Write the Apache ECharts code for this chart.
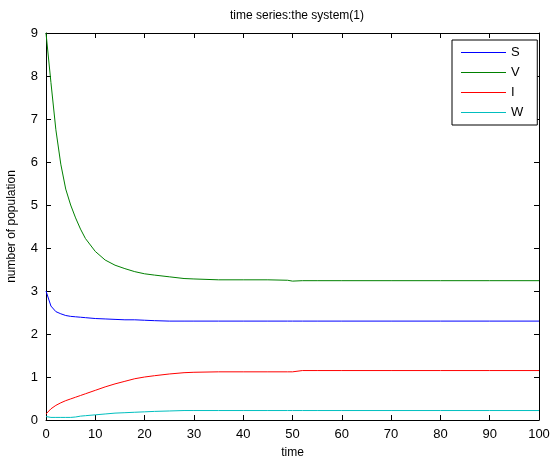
<!DOCTYPE html>
<html>
<head>
<meta charset="utf-8">
<script src="https://cdn.jsdelivr.net/npm/echarts@6/dist/echarts.min.js"></script>
<style>html,body{margin:0;padding:0;background:#fff;}#c{width:551px;height:462px;}</style>
</head>
<body>
<div id="c"></div>
<script>
const times = [0,1,2,3,4,5,6,7,8,10,12,14,16,18,20,22,25,28,30,35,40,45,49,50,52,55,60,70,80,90,100];
const S = [3.00,2.65,2.52,2.47,2.43,2.41,2.40,2.39,2.38,2.36,2.35,2.34,2.33,2.33,2.32,2.31,2.30,2.30,2.30,2.30,2.30,2.30,2.30,2.30,2.30,2.30,2.30,2.30,2.30,2.30,2.30];
const V = [9.00,7.85,6.75,5.95,5.37,5.00,4.70,4.44,4.22,3.92,3.72,3.60,3.52,3.45,3.40,3.37,3.33,3.29,3.28,3.26,3.26,3.26,3.25,3.23,3.24,3.24,3.24,3.24,3.24,3.24,3.24];
const I = [0.14,0.26,0.34,0.40,0.45,0.49,0.53,0.57,0.61,0.69,0.77,0.84,0.90,0.96,1.00,1.03,1.07,1.10,1.11,1.12,1.12,1.12,1.12,1.12,1.15,1.15,1.15,1.15,1.15,1.15,1.15];
const W = [0.08,0.06,0.06,0.06,0.06,0.06,0.07,0.09,0.10,0.12,0.14,0.16,0.17,0.18,0.19,0.20,0.21,0.22,0.22,0.22,0.22,0.22,0.22,0.22,0.22,0.22,0.22,0.22,0.22,0.22,0.22];
const xTicks = {min: 0, max: 100, interval: 10};
const yTicks = {min: 0, max: 9, interval: 1};
const names = ['S','V','I','W'];
const colors = ['#0000ff','#008000','#ff0000','#00bfbf'];
const values = [S, V, I, W];

const font = 'Liberation Sans, Arial, Helvetica, sans-serif';
const chart = echarts.init(document.getElementById('c'), null, {renderer: 'canvas'});
const baseAxis = {
  axisLine: {show: true, onZero: false, lineStyle: {color: '#000', width: 1}},
  axisTick: {show: true, inside: true, length: 5, lineStyle: {color: '#000'}},
  splitLine: {show: false},
  axisLabel: {color: '#000', fontFamily: font, fontSize: 13}
};
chart.setOption({
  animation: false,
  backgroundColor: '#fff',
  title: {
    text: 'time series:the system(1)', left: 292, top: 5, textAlign: 'center',
    textStyle: {fontFamily: font, fontSize: 12, fontWeight: 'normal', color: '#000'}
  },
  grid: {left: 46, right: 12, top: 33, bottom: 42, containLabel: false, outerBoundsMode: 'none'},
  legend: {
    data: names, orient: 'vertical', left: 452, top: 40,
    padding: [6, 14, 6, 9], itemGap: 7, itemWidth: 45, itemHeight: 14, itemTextGap: 6,
    backgroundColor: '#fff', borderColor: '#000', borderWidth: 1, borderRadius: 0,
    icon: 'path://M0,0H45V1H0Z',
    textStyle: {fontFamily: font, fontSize: 13, color: '#000'}
  },
  xAxis: [
    Object.assign({}, baseAxis, {type: 'value', position: 'bottom', min: xTicks.min, max: xTicks.max, interval: xTicks.interval,
      name: 'time', nameLocation: 'middle', nameGap: 27, nameTextStyle: {fontFamily: font, fontSize: 12, color: '#000'},
      axisLabel: Object.assign({}, baseAxis.axisLabel, {margin: 8})}),
    Object.assign({}, baseAxis, {type: 'value', position: 'top', min: xTicks.min, max: xTicks.max, interval: xTicks.interval,
      axisLabel: {show: false}})
  ],
  yAxis: [
    Object.assign({}, baseAxis, {type: 'value', position: 'left', min: yTicks.min, max: yTicks.max, interval: yTicks.interval,
      name: 'number of population', nameLocation: 'middle', nameGap: 28, nameTextStyle: {fontFamily: font, fontSize: 12, color: '#000'},
      axisLabel: Object.assign({}, baseAxis.axisLabel, {margin: 8})}),
    Object.assign({}, baseAxis, {type: 'value', position: 'right', min: yTicks.min, max: yTicks.max, interval: yTicks.interval,
      axisLabel: {show: false}})
  ],
  series: names.map((n, k) => ({
    name: n, type: 'line', xAxisIndex: 0, yAxisIndex: 0,
    data: times.map((t, i) => [t, values[k][i]]),
    showSymbol: false, symbol: 'none', smooth: false,
    lineStyle: {color: colors[k], width: 1}, itemStyle: {color: colors[k]}
  }))
});
</script>
</body>
</html>
